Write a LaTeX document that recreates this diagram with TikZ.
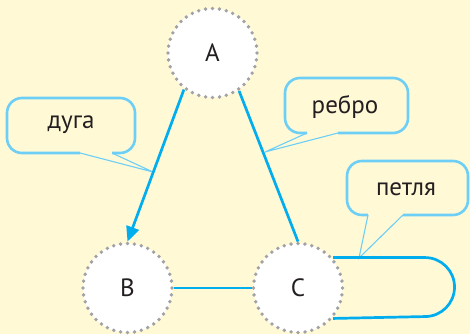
\documentclass[tikz,border=0pt]{standalone}
\usepackage{fontspec}
\setmainfont{PT Sans}
\usetikzlibrary{arrows.meta}
\definecolor{bg}{HTML}{FFF9D6}
\definecolor{edgeblue}{HTML}{00AEEF}
\definecolor{callblue}{HTML}{6DCFF6}
\definecolor{dotgray}{HTML}{A0A2A5}
\definecolor{txt}{HTML}{231F20}
\tikzset{
  vertex/.style={circle, fill=white, draw=dotgray, line width=3.8pt, line cap=round,
    dash pattern=on 0pt off 6.99pt, minimum size=89pt, inner sep=0pt,
    font=\fontsize{25}{28}\selectfont, text=txt},
  edgeline/.style={draw=edgeblue, line width=2.7pt},
  callbox/.style={draw=callblue, line width=2.6pt, rounded corners=15pt},
  calltail/.style={draw=callblue, line width=1.1pt, line join=miter},
  calltext/.style={font=\fontsize{25}{28}\selectfont, text=txt, inner sep=0pt}
}
\begin{document}
\begin{tikzpicture}[x=1pt,y=1pt]
\fill[bg] (0,0) rectangle (470,334);
\useasboundingbox (0,0) rectangle (470,334);

% callouts
% дуга
\coordinate (d1) at (80,181);
\coordinate (d2) at (112,181);
\coordinate (dtip) at (153,162);
\draw[callbox] (d1) -- (7,181) -- (7,236) -- (135,236) -- (135,181) -- (d2);
\draw[calltail] (d1) -- (dtip) -- (d2);
\node[calltext] (tdug) at (71,209) {дуга};
% ребро
\coordinate (r1) at (307,201);
\coordinate (r2) at (338,201);
\coordinate (rtip) at (265,182);
\draw[callbox] (r1) -- (285,201) -- (285,256) -- (408,256) -- (408,201) -- (r2);
\draw[calltail] (r1) -- (rtip) -- (r2);
\node[calltext] (treb) at (345,227) {ребро};
% петля
\coordinate (p1) at (368,119);
\coordinate (p2) at (403,119);
\coordinate (ptip) at (359,76);
\draw[callbox] (p1) -- (347,119) -- (347,173) -- (468,173) -- (468,119) -- (p2);
\draw[calltail] (p1) -- (ptip) -- (p2);
\node[calltext] (tpet) at (406,145) {петля};

% vertices
\node[vertex] (A) at (212.5,281) {A};
\node[vertex] (B) at (127.5,46) {B};
\node[vertex] (C) at (298,46) {C};

% edges
\draw[edgeline, -{Triangle[length=15pt,width=13pt]}] (A.232) -- (B.north);
\draw[edgeline] (A.305) -- (C.north);
\draw[edgeline] (B.east) -- (C.west);
\draw[edgeline] (C.41.5) -- ++(92,0) arc[start angle=90, end angle=-90, radius=29.5pt] -- (C.-41.5);
\end{tikzpicture}
\end{document}
